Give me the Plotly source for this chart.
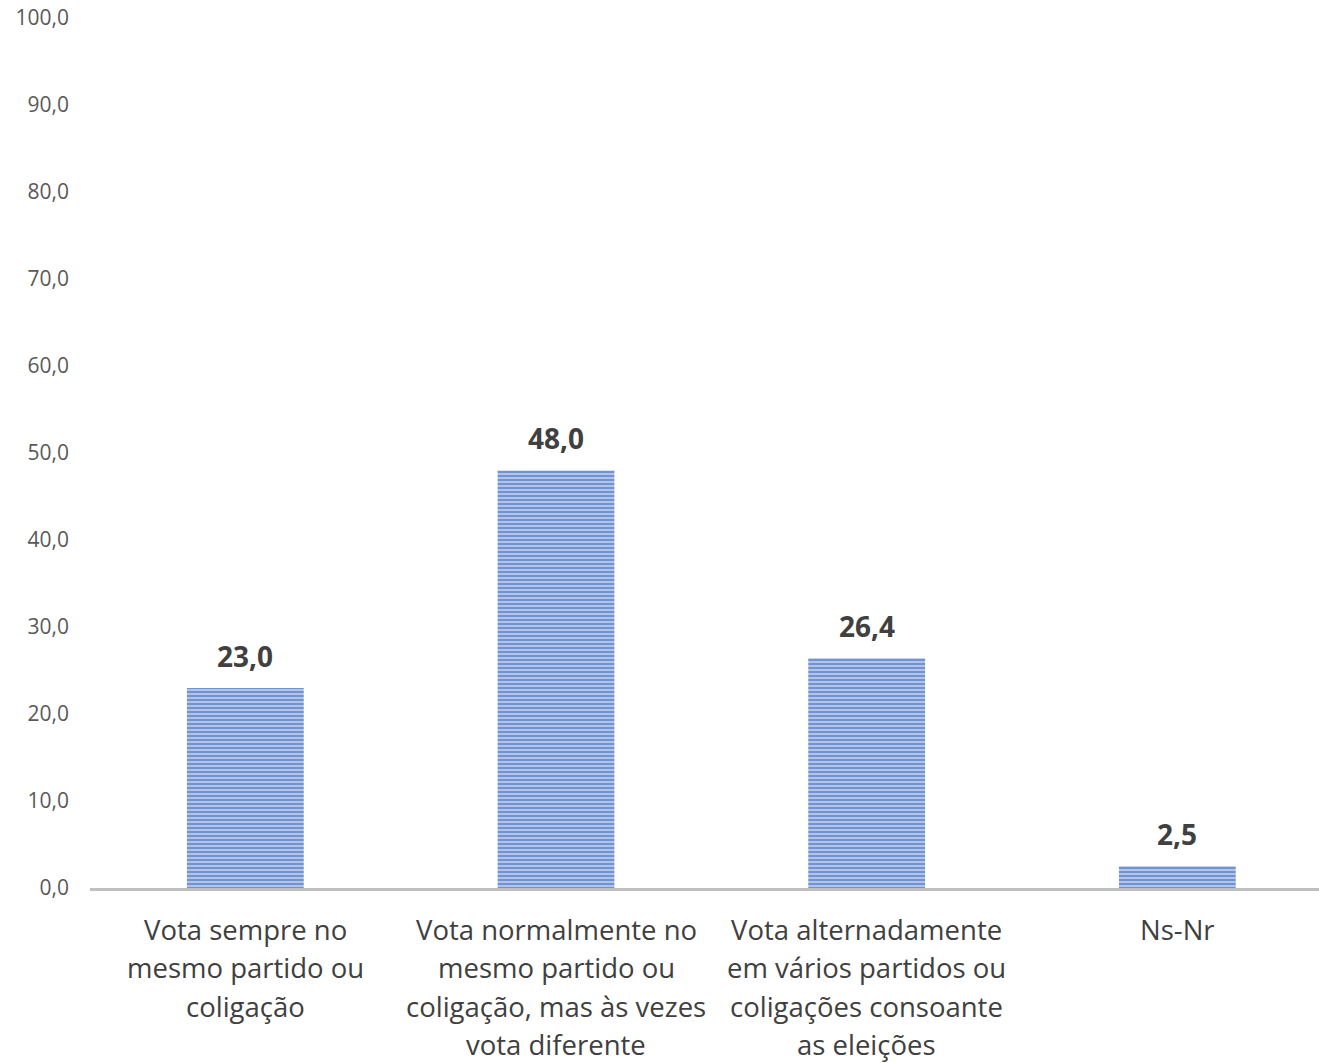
import plotly.graph_objects as go

# Survey answers and their shares (%)
categories = [
    "Vota sempre no<br>mesmo partido ou<br>coligação",
    "Vota normalmente no<br>mesmo partido ou<br>coligação, mas às vezes<br>vota diferente",
    "Vota alternadamente<br>em vários partidos ou<br>coligações consoante<br>as eleições",
    "Ns-Nr",
]
values = [23.0, 48.0, 26.4, 2.5]
y_ticks = [0, 10, 20, 30, 40, 50, 60, 70, 80, 90, 100]

FONT = "Open Sans"
x_pos = list(range(len(categories)))

fig = go.Figure(
    go.Bar(
        x=x_pos,
        y=values,
        width=0.376,
        marker=dict(
            color="#b8caeb",
            line=dict(width=0),
            pattern=dict(shape="-", fgcolor="#2c5cb6", bgcolor="#b8caeb",
                         size=4, solidity=0.55, fillmode="overlay"),
        ),
        hoverinfo="skip",
    )
)

annotations = []
# Value labels above each bar
for x, v in zip(x_pos, values):
    annotations.append(dict(
        x=x, y=v, xref="x", yref="y", text=f"<b>{v:.1f}</b>".replace(".", ","),
        showarrow=False, yanchor="bottom", yshift=11,
        font=dict(family=FONT, size=28, color="#404040"),
    ))
# Category labels, one annotation per line for tight control of spacing
for x, cat in zip(x_pos, categories):
    for i, line in enumerate(cat.split("<br>")):
        annotations.append(dict(
            x=x, y=0, xref="x", yref="y", text=line, showarrow=False,
            yanchor="middle", yshift=-41 - 38.5 * i,
            font=dict(family=FONT, size=27.5, color="#404040"),
        ))

fig.update_layout(
    width=1319, height=1063,
    margin=dict(l=90, r=0, t=18, b=175),
    paper_bgcolor="white", plot_bgcolor="white",
    separators=",.",
    showlegend=False,
    annotations=annotations,
    xaxis=dict(
        range=[-0.5, 3.456], showticklabels=False, showgrid=False,
        zeroline=False, showline=True, linecolor="#bfbfbf", linewidth=3,
        ticks="", fixedrange=True,
    ),
    yaxis=dict(
        range=[0, 100], tickvals=y_ticks, tickformat=".1f",
        showgrid=False, zeroline=False, showline=False, ticks="",
        ticklabelstandoff=20,
        tickfont=dict(family=FONT, size=21, color="#595959"),
    ),
)

fig.write_html("out.html")
